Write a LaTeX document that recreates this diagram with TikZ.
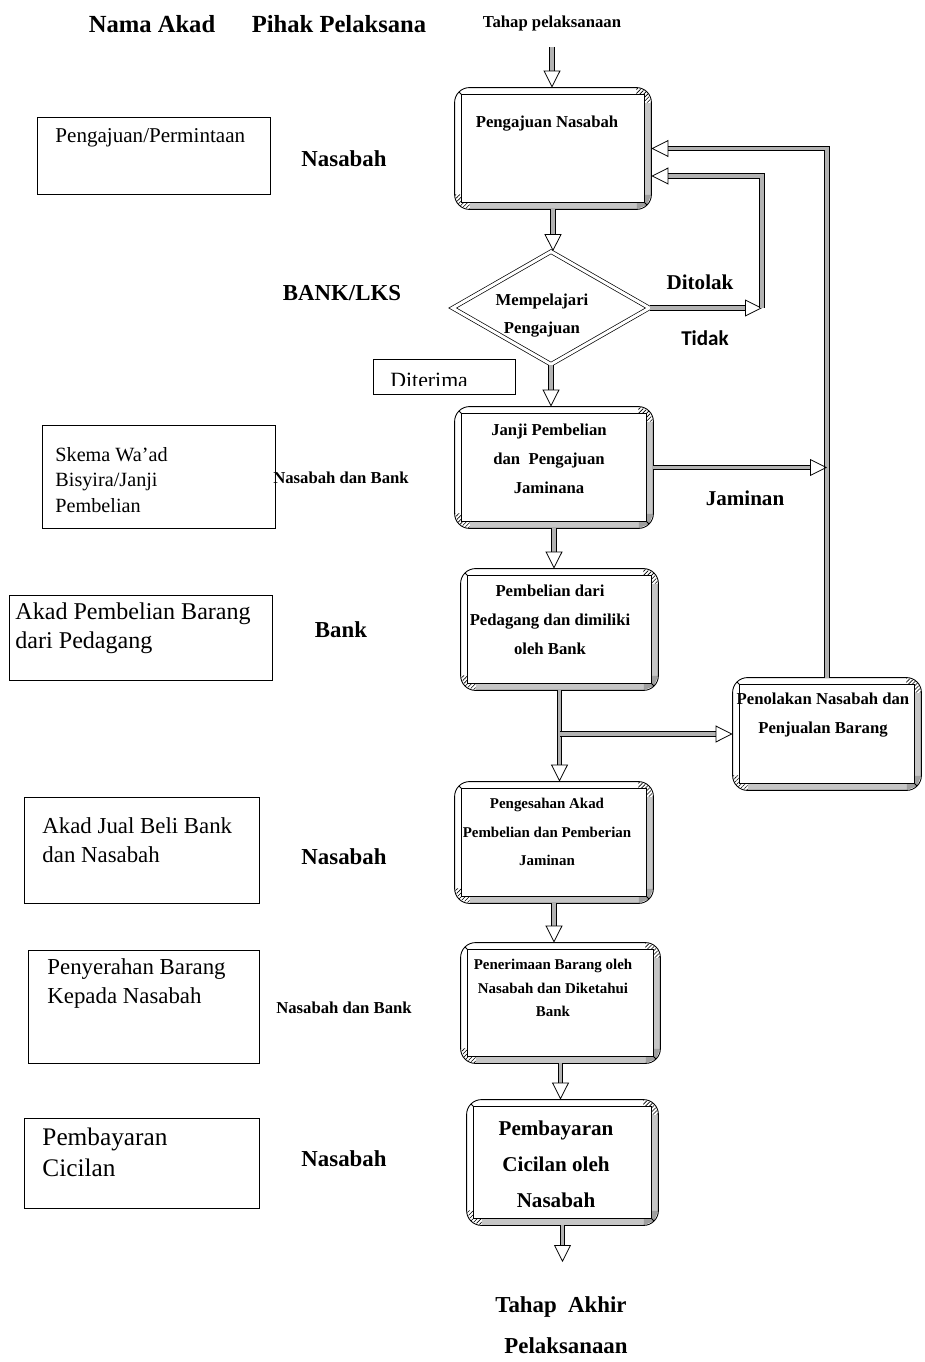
\documentclass[tikz,border=0pt]{standalone}
\usepackage{fontspec}
\setmainfont{Liberation Serif}
\newfontfamily\tidakfont{Carlito}
\usetikzlibrary{arrows.meta, shapes.geometric, calc, patterns.meta}

% frame of a bevelled step box, drawn round a named node
\newcommand{\bevelframe}[1]{%
  \fill[gray!45] ($(#1.south west)+(15,0)$) rectangle ($(#1.south east)+(-15,-7)$);
  \fill[gray!45] ($(#1.north east)+(0,15)$) rectangle ($(#1.south east)+(-7,-15)$);
  \fill[gray!75] ($(#1.south east)+(-15,0)$) -- ($(#1.south east)+(-4.4,-4.4)$)
    -- ($(#1.south east)+(0,-15)$) -- ($(#1.south east)+(-7,-15)$)
    -- ($(#1.south east)+(-7,-7)$) -- ($(#1.south east)+(-15,-7)$) -- cycle;
  \fill[hatch] ($(#1.north east)+(-15,0)$) -- ($(#1.north east)+(-4.4,4.4)$)
    -- ($(#1.north east)+(0,15)$) -- ($(#1.north east)+(-7,15)$)
    -- ($(#1.north east)+(-7,7)$) -- ($(#1.north east)+(-15,7)$) -- cycle;
  \fill[hatch] ($(#1.south west)+(15,0)$) -- ($(#1.south west)+(4.4,-4.4)$)
    -- ($(#1.south west)+(0,-15)$) -- ($(#1.south west)+(7,-15)$)
    -- ($(#1.south west)+(7,-7)$) -- ($(#1.south west)+(15,-7)$) -- cycle;
  \draw[rounded corners=0.3cm] (#1.south west) rectangle (#1.north east);
  \draw ($(#1.south west)+(7,-7)$) rectangle ($(#1.north east)+(-7,7)$);
  \draw ($(#1.north west)+(4.4,4.4)$) -- ($(#1.north west)+(7,7)$);
  \draw ($(#1.south east)+(-4.4,-4.4)$) -- ($(#1.south east)+(-7,-7)$);
}

\begin{document}
\begin{tikzpicture}[x=0.02cm, y=-0.02cm, line width=0.5pt,
  hatch/.style={pattern={Lines[angle=45, distance=1.6pt, line width=0.35pt]}},
  head/.style={font=\bfseries\fontsize{14}{16}\selectfont},
  pihak/.style={font=\bfseries\fontsize{13}{15}\selectfont},
  pihakkecil/.style={font=\bfseries\fontsize{9.5}{11}\selectfont},
  akad/.style={draw, rectangle, inner sep=0pt},
  akadtxt/.style={anchor=west, align=left, inner sep=0pt},
  bevel/.style={rectangle, inner sep=0pt},
  boxtxt/.style={align=center, inner sep=0pt,
    font=\bfseries\fontsize{9.5}{16.4}\selectfont},
  flow/.style={draw, line width=0.45pt, double=gray!60, double distance=0.07cm,
    -{Triangle[open, length=0.34cm, width=0.34cm]}}]
  \path[use as bounding box, fill=white] (0,0) rectangle (924,1362);

  % column heads
  \node[head] (na) at (152,24) {Nama Akad};
  \node[head] (pp) at (339,24) {Pihak Pelaksana};
  \node[pihakkecil] (tp) at (552,23) {Tahap pelaksanaan};

  % akad boxes
  \node[akad, minimum width=4.66cm, minimum height=1.54cm] (a1) at (153.5,155.5) {};
  \node[akadtxt, font=\fontsize{12}{14}\selectfont] (a1-t) at (55,138) {Pengajuan/Permintaan};
  \node[akad, minimum width=4.66cm, minimum height=2.06cm] (a2) at (158.5,476.5) {};
  \node[akadtxt, font=\fontsize{11.5}{14.7}\selectfont] (a2-t) at (55,480)
    {Skema Wa'ad\\Bisyira/Janji\\Pembelian};
  \node[akad, minimum width=5.26cm, minimum height=1.7cm] (a3) at (140.5,637.5) {};
  \node[akadtxt, font=\fontsize{13.7}{16.4}\selectfont] (a3-t) at (15,628.5)
    {Akad Pembelian Barang\\dari Pedagang};
  \node[akad, minimum width=4.7cm, minimum height=2.12cm] (a4) at (141.5,850) {};
  \node[akadtxt, font=\fontsize{13}{16.4}\selectfont] (a4-t) at (42,840.5)
    {Akad Jual Beli Bank\\dan Nasabah};
  \node[akad, minimum width=4.62cm, minimum height=2.26cm] (a5) at (143.5,1006.5) {};
  \node[akadtxt, font=\fontsize{13}{16.4}\selectfont] (a5-t) at (47,983.5)
    {Penyerahan Barang\\Kepada Nasabah};
  \node[akad, minimum width=4.7cm, minimum height=1.8cm] (a6) at (141.5,1163) {};
  \node[akadtxt, font=\fontsize{14.4}{17.6}\selectfont] (a6-t) at (42,1152.5)
    {Pembayaran\\Cicilan};

  % pihak pelaksana
  \node[pihak] (p1) at (344,159) {Nasabah};
  \node[pihak] (p2) at (342,293) {BANK/LKS};
  \node[pihakkecil] (p3) at (341,478) {Nasabah dan Bank};
  \node[pihak] (p4) at (341,630) {Bank};
  \node[pihak] (p5) at (344,857) {Nasabah};
  \node[pihakkecil] (p6) at (344,1008) {Nasabah dan Bank};
  \node[pihak] (p7) at (344,1159) {Nasabah};

  % tahap pelaksanaan
  \node[bevel, minimum width=3.92cm, minimum height=2.42cm] (pn) at (553,148.5) {};
  \node[diamond, draw, line width=0.4pt, double, double distance=0.06cm,
    minimum width=3.94cm, minimum height=2.26cm, inner sep=0pt] (mp) at (551,308) {};
  \node[bevel, minimum width=3.96cm, minimum height=2.42cm] (jp) at (554,467.5) {};
  \node[bevel, minimum width=3.94cm, minimum height=2.42cm] (pd) at (559.5,629.5) {};
  \node[bevel, minimum width=3.96cm, minimum height=2.42cm] (ps) at (554,842.5) {};
  \node[bevel, minimum width=3.98cm, minimum height=2.4cm] (pr) at (560.5,1003) {};
  \node[bevel, minimum width=3.82cm, minimum height=2.5cm] (cc) at (562.5,1162.5) {};
  \node[bevel, minimum width=3.76cm, minimum height=2.24cm] (tl) at (827,734) {};
  \foreach \b in {pn,jp,pd,ps,pr,cc,tl} {\bevelframe{\b}}

  \node[boxtxt] (pn-t) at (547,124) {Pengajuan Nasabah};
  \node[boxtxt, font=\bfseries\fontsize{9.5}{15.9}\selectfont] (mp-t) at (542,316)
    {Mempelajari\\Pengajuan};
  \node[boxtxt] (jp-t) at (549,459) {Janji Pembelian\\dan\ \ Pengajuan\\Jaminana};
  \node[boxtxt] (pd-t) at (550,620) {Pembelian dari\\Pedagang dan dimiliki\\oleh Bank};
  \node[boxtxt, font=\bfseries\fontsize{8.5}{16.4}\selectfont] (ps-t) at (547,832)
    {Pengesahan Akad\\Pembelian dan Pemberian\\Jaminan};
  \node[boxtxt, font=\bfseries\fontsize{8.5}{13.3}\selectfont] (pr-t) at (553,988)
    {Penerimaan Barang oleh\\Nasabah dan Diketahui\\Bank};
  \node[boxtxt, font=\bfseries\fontsize{12}{20.4}\selectfont] (cc-t) at (556,1164)
    {Pembayaran\\Cicilan oleh\\Nasabah};
  \node[boxtxt, font=\bfseries\fontsize{9.5}{17}\selectfont] (tl-t) at (823,715)
    {Penolakan Nasabah dan\\Penjualan Barang};

  % diterima, cut off at the bottom
  \node[akad, minimum width=2.84cm, minimum height=0.7cm] (dt) at (444,376.5) {};
  \begin{scope}
    \clip (dt.north west) rectangle ($(dt.south east)+(0,-9)$);
    \node[anchor=base west, inner sep=0pt, font=\fontsize{12.4}{14}\selectfont]
      (dt-t) at (390,387.5) {Diterima};
  \end{scope}

  % side labels
  \node[font=\bfseries\fontsize{12}{14}\selectfont] (dl) at (700,282) {Ditolak};
  \node[font=\tidakfont\bfseries\fontsize{12}{14}\selectfont] (td) at (705,338) {Tidak};
  \node[font=\bfseries\fontsize{12}{14}\selectfont] (jm) at (745,498) {Jaminan};
  \node[head, font=\bfseries\fontsize{13}{15}\selectfont] (ak1) at (561,1307) {Tahap\ \ Akhir};
  \node[head, font=\bfseries\fontsize{13}{15}\selectfont] (ak2) at (566,1346) {Pelaksanaan};

  \coordinate (tk) at (762,308);
  \coordinate (fin) at (562.5,1262);
  \coordinate (pn-in) at ([yshift=-0.55cm]pn.east);

  % main flow
  \draw[flow, shorten <=0.2cm] (tp.south) -- (tp.south |- pn.north);
  \draw[flow] (pn.south) -- (pn.south |- mp.north);
  \draw[flow] (mp.south) -- (mp.south |- jp.north);
  \draw[flow] (jp.south) -- (jp.south |- pd.north);
  \draw[flow] (pd.south) -- (pd.south |- ps.north);
  \draw[flow] (pd.south |- tl.west) -- (tl.west);
  \draw[flow] (ps.south) -- (ps.south |- pr.north);
  \draw[flow] (pr.south) -- (pr.south |- cc.north);
  \draw[flow] (cc.south) -- (cc.south |- fin);

  % ditolak and return loops
  \draw[flow] (mp.east) -- (tk);
  \draw[flow] (tk) -- (tk |- pn-in) -- (pn-in);
  \draw[flow] (tl.north) -- (tl.north |- pn.east) -- (pn.east);
  \draw[flow] (jp.east) -- (tl.north |- jp.east);
\end{tikzpicture}
\end{document}
